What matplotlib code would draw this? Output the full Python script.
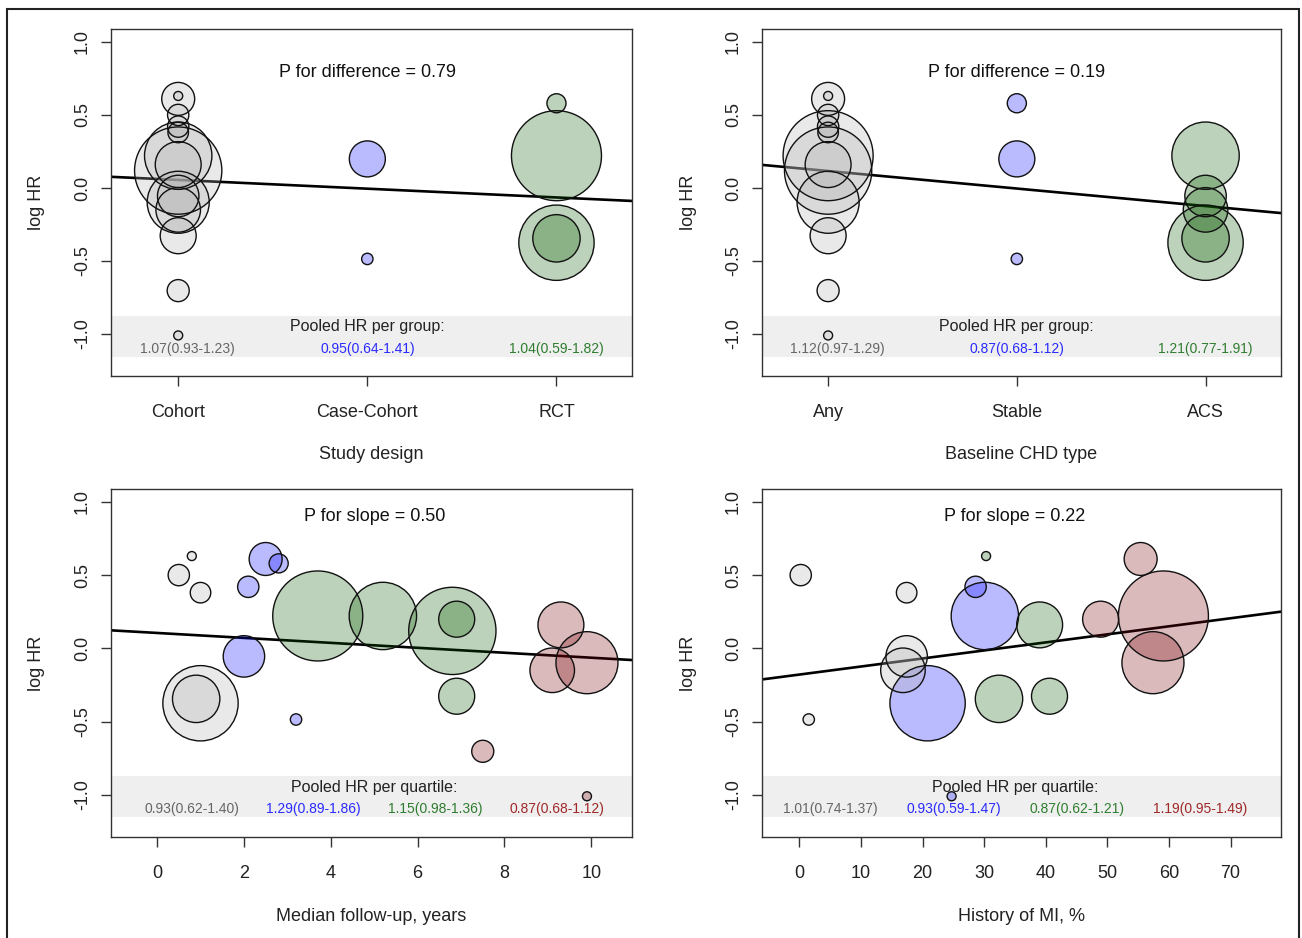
import numpy as np
import matplotlib.pyplot as plt
from matplotlib.patches import Rectangle

plt.rcParams['font.family'] = ['Liberation Sans', 'DejaVu Sans']

# per-study estimates (20 studies)
log_hr = np.array([0.63, 0.50, 0.38, -0.375, -0.345, 0.61, 0.58, 0.42, -0.055, -0.486,
                   0.221, 0.221, 0.119, 0.199, -0.327, -0.703, 0.16, -0.15, -0.098, -1.01])
weight = np.array([1.0, 5.6, 5.2, 70.0, 27.7, 13.4, 4.5, 5.6, 21.2, 1.6,
                   100.0, 56.0, 94.0, 16.0, 16.0, 6.0, 26.0, 24.5, 47.5, 1.0])
followup = np.array([0.8, 0.5, 1.0, 1.0, 0.9, 2.5, 2.8, 2.1, 2.0, 3.2,
                     3.7, 5.2, 6.8, 6.9, 6.9, 7.5, 9.3, 9.1, 9.9, 9.9])
mi_history = np.array([30.3, 0.2, 17.4, 20.8, 32.4, 55.4, np.nan, 28.6, 17.4, 1.5,
                       59.1, 30.1, np.nan, 48.9, 40.6, np.nan, 39.0, 16.8, 57.4, 24.7])

design_labels = ['Cohort', 'Case-Cohort', 'RCT']
design = np.array([0, 0, 0, 2, 2, 0, 2, 0, 0, 1, 2, 0, 0, 1, 0, 0, 0, 0, 0, 0])
chd_labels = ['Any', 'Stable', 'ACS']
chd_type = np.array([0, 0, 0, 2, 2, 0, 1, 0, 2, 1, 0, 2, 0, 1, 0, 0, 0, 2, 0, 0])
fu_quartile = np.array([0] * 5 + [1] * 5 + [2] * 5 + [3] * 5)
mi_quartile = np.array([2, 0, 0, 1, 2, 3, -1, 1, 0, 0, 3, 1, -1, 3, 2, -1, 2, 0, 3, 1])

# pooled HR (95% CI) per group
pooled_design = [(1.07, 0.93, 1.23), (0.95, 0.64, 1.41), (1.04, 0.59, 1.82)]
pooled_chd = [(1.12, 0.97, 1.29), (0.87, 0.68, 1.12), (1.21, 0.77, 1.91)]
pooled_fu = [(0.93, 0.62, 1.40), (1.29, 0.89, 1.86), (1.15, 0.98, 1.36), (0.87, 0.68, 1.12)]
pooled_mi = [(1.01, 0.74, 1.37), (0.93, 0.59, 1.47), (0.87, 0.62, 1.21), (1.19, 0.95, 1.49)]

# meta-regression lines (intercept, slope) and p values
fit_design = (0.115, -0.060)
fit_chd = (0.236, -0.120)
fit_fu = (0.105, -0.0169)
fit_mi = (-0.179, 0.00549)
p_values = [0.79, 0.19, 0.50, 0.22]

fill_cols = ['#afafaf', '#0000ff', '#0a5a00', '#7a000a']
text_cols = ['#666666', '#2a2aff', '#2e7d2e', '#a02828']

fig = plt.figure(figsize=(13.02, 9.38), dpi=100)
fig.patches.append(Rectangle((7 / 1302, -0.01), 1292 / 1302, 1.0 - 9 / 938 + 0.01,
                             transform=fig.transFigure, fill=False, lw=1.5, ec='#222222'))


def panel(rect, x, groups, fit, ptxt, pty, pooled, label_x, value_xs, poollabel,
          xlim, xticks, xticklabels, xlabel):
    ax = fig.add_axes(rect)
    ax.set_xlim(*xlim)
    ax.set_ylim(-1.288, 1.088)
    ax.axhspan(-1.155, -0.875, color='#efefef', lw=0, zorder=0)
    ax.axline((0, fit[0]), slope=fit[1], color='black', lw=1.9, zorder=1)
    ok = ~np.isnan(x) & (groups >= 0)
    cols = [fill_cols[g] for g in groups[ok]]
    ax.scatter(x[ok], log_hr[ok], s=42 * weight[ok], c=cols, alpha=0.27,
               edgecolors='none', zorder=2)
    ax.scatter(x[ok], log_hr[ok], s=42 * weight[ok], facecolors='none',
               edgecolors='#111111', linewidths=1.0, zorder=3)
    ax.text(label_x, pty, ptxt, ha='center', va='center', fontsize=13, color='#111111')
    ax.text(label_x, -0.95, poollabel, ha='center', va='center', fontsize=11.5,
            color='#222222', zorder=4)
    for i, (hr, lo, hi) in enumerate(pooled):
        ax.text(value_xs[i], -1.10, f'{hr:.2f}({lo:.2f}-{hi:.2f})', ha='center',
                va='center', fontsize=10, color=text_cols[i], zorder=4)
    ax.set_yticks([-1.0, -0.5, 0.0, 0.5, 1.0])
    ax.set_yticklabels(['-1.0', '-0.5', '0.0', '0.5', '1.0'], rotation=90, va='center')
    ax.set_xticks(xticks)
    ax.set_xticklabels(xticklabels)
    ax.tick_params(axis='both', direction='out', length=7, width=1.0, color='#333333',
                   labelsize=13, labelcolor='#222222')
    ax.tick_params(axis='x', pad=13)
    ax.tick_params(axis='y', pad=7.5)
    for sp in ax.spines.values():
        sp.set_linewidth(1.0)
        sp.set_color('#333333')
    ax.set_ylabel('log HR', fontsize=13, color='#222222')
    ax.yaxis.set_label_coords(-0.126, 0.5)
    ax.set_xlabel(xlabel, fontsize=13, color='#222222')
    ax.xaxis.set_label_coords(0.5, -0.203)
    return ax


top = [0.5991, 0.3699]
bot = [0.1077, 0.3710]
left_x = [0.0853, 0.4002]
right_x = [0.5853, 0.3986]

panel([left_x[0], top[0], left_x[1], top[1]], (design + 1).astype(float), design,
      fit_design, f'P for difference = {p_values[0]:.2f}', 0.79, pooled_design,
      2, [1.05, 2, 3], 'Pooled HR per group:', (0.645, 3.40), [1, 2, 3],
      design_labels, 'Study design')

panel([right_x[0], top[0], right_x[1], top[1]], (chd_type + 1).astype(float), chd_type,
      fit_chd, f'P for difference = {p_values[1]:.2f}', 0.79, pooled_chd,
      2, [1.05, 2, 3], 'Pooled HR per group:', (0.65, 3.40), [1, 2, 3],
      chd_labels, 'Baseline CHD type')

panel([left_x[0], bot[0], left_x[1], bot[1]], followup, fu_quartile,
      fit_fu, f'P for slope = {p_values[2]:.2f}', 0.90, pooled_fu,
      5, [0.8, 3.6, 6.4, 9.2], 'Pooled HR per quartile:', (-1.06, 10.94),
      [0, 2, 4, 6, 8, 10], ['0', '2', '4', '6', '8', '10'], 'Median follow-up, years')

panel([right_x[0], bot[0], right_x[1], bot[1]], mi_history, mi_quartile,
      fit_mi, f'P for slope = {p_values[3]:.2f}', 0.90, pooled_mi,
      35, [5, 25, 45, 65], 'Pooled HR per quartile:', (-6.08, 78.2),
      [0, 10, 20, 30, 40, 50, 60, 70], ['0', '10', '20', '30', '40', '50', '60', '70'],
      'History of MI, %')

fig.savefig('out.png', dpi=100)
